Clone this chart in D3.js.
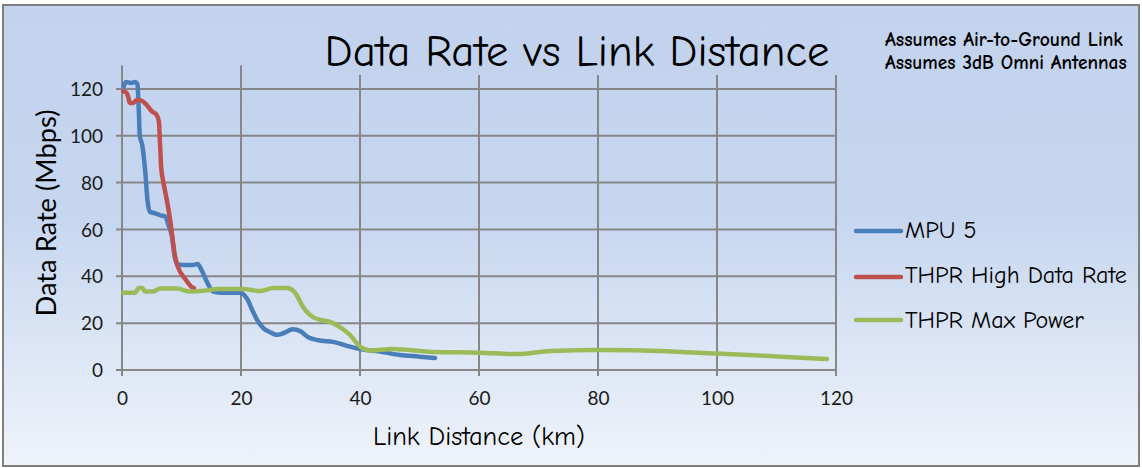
<!DOCTYPE html>
<html><head><meta charset="utf-8">
<script src="https://cdn.jsdelivr.net/npm/d3@7"></script>
<style>html,body{margin:0;padding:0;background:#fff;}svg{display:block;}</style>
</head><body>
<svg id="c" width="1142" height="468"></svg>
<script>
// ---- data ----
const mpu5 = [[0.3,121],[0.6,123],[1.5,122.5],[2.2,123],[2.6,122],[2.8,112],[3,100],[3.4,96],[3.9,85],[4.3,72],[4.7,67.5],[5.5,67],[6.5,66],[7.3,65.5],[7.8,62],[8.4,57],[8.9,48],[9.3,45],[10.5,44.8],[12,44.8],[12.7,45.3],[13.2,43.5],[14.3,37.5],[15.3,33.5],[17,33],[19.8,33],[21,30.5],[22,25],[22.8,21],[23.7,18],[25,16],[26,15],[27.2,15.8],[28.7,17.4],[30,16.5],[31.3,14],[33,12.7],[35.5,12],[38.3,10],[41,8.5],[43,8],[46.7,6.4],[50,5.7],[52.6,5.1]];
const thprHigh = [[0.2,119],[0.7,118.5],[1,117],[1.3,114],[1.9,114],[2.5,115.3],[3.3,115],[4.2,113],[5,110.5],[5.8,109],[6.2,106],[6.4,96],[6.6,86],[6.9,81],[7.5,73],[8.1,64],[8.4,58],[8.8,50],[9.4,44],[10.6,39],[11.7,35.5],[12.1,35]];
const thprMax = [[0.2,33],[2.2,33],[2.8,35],[3.4,35],[3.9,33.5],[5.2,33.5],[6.4,34.8],[9.2,34.8],[11.4,33.5],[14.3,34],[16,34.6],[20.3,34.6],[23.2,33.7],[25.4,35],[27.7,35],[29.1,33],[30.4,27],[32.1,22.6],[35.5,20],[37.1,17.5],[38.3,15],[40,10],[41.7,8.3],[45.5,9],[52.3,7.7],[60,7.4],[66.4,6.8],[72,8.1],[80,8.5],[85.4,8.4],[100,7],[110,5.8],[118.5,4.7]];
const seriesNames = ["MPU 5","THPR High Data Rate","THPR Max Power"];
const seriesColors = ["#4a7ebb","#c0504d","#9bbb59"];
const xTicks = [0,20,40,60,80,100,120];
const yTicks = [0,20,40,60,80,100,120];
const titleText = "Data Rate vs Link Distance";
const notes = ["Assumes Air-to-Ground Link","Assumes 3dB Omni Antennas"];
const xTitle = "Link Distance (km)";
const yTitle = "Data Rate (Mbps)";

const comic = "'Comic Sans MS','Comic Neue','Noto Sans',sans-serif";
const sans = "Lato,'Open Sans',sans-serif";

const svg = d3.select("#c");
const defs = svg.append("defs");
const g = defs.append("linearGradient").attr("id","bg").attr("x1",0).attr("y1",0).attr("x2",0).attr("y2",1);
g.append("stop").attr("offset","0%").attr("stop-color","#c3d3ee");
g.append("stop").attr("offset","45%").attr("stop-color","#c6d6ef");
g.append("stop").attr("offset","100%").attr("stop-color","#eff3fa");

svg.append("rect").attr("x",3).attr("y",5).attr("width",1136).attr("height",461)
  .attr("fill","url(#bg)").attr("stroke","#7f7f7f").attr("stroke-width",2);

const x = d3.scaleLinear().domain([0,120]).range([122,836]);
const y = d3.scaleLinear().domain([0,130]).range([370,65.5]);

// gridlines
const grid = svg.append("g").attr("stroke","#878787").attr("stroke-width",2);
grid.selectAll(".vx").data(xTicks).join("line")
  .attr("x1",d=>x(d)).attr("x2",d=>x(d)).attr("y1",y(130)).attr("y2",y(0)+6);
grid.selectAll(".hy").data(yTicks).join("line")
  .attr("x1",x(0)-6).attr("x2",x(120)).attr("y1",d=>y(d)).attr("y2",d=>y(d));

const xAxis = svg.append("g").attr("transform",`translate(0,${y(0)})`)
  .call(d3.axisBottom(x).tickValues(xTicks).tickSize(0).tickPadding(22));
const yAxis = svg.append("g").attr("transform",`translate(${x(0)},0)`)
  .call(d3.axisLeft(y).tickValues(yTicks).tickSize(0).tickPadding(19));
[xAxis,yAxis].forEach(a=>{a.select(".domain").remove();
  a.selectAll("text").attr("font-family",sans).attr("font-size",19).attr("fill","#1a1a1a");});
yAxis.selectAll("text").attr("dy","0.35em");

svg.append("rect").attr("x",318).attr("y",30).attr("width",522).attr("height",45).attr("fill","#c3d3ee");

function fit(sel, w){
  const n = sel.node(); const fs = parseFloat(sel.attr("font-size"));
  const len = n.getComputedTextLength(); sel.attr("font-size", fs*w/len);
}
const t = svg.append("text").attr("x",577).attr("y",66).attr("text-anchor","middle")
  .attr("font-family",comic).attr("font-size",38).attr("fill","#000").text(titleText);
fit(t,505);

notes.forEach((s,i)=>{
  const n = svg.append("text").attr("x",885).attr("y",[46,69][i]).attr("font-family",comic)
    .attr("font-weight","bold").attr("font-size",16).attr("fill","#000").text(s);
  fit(n,[238,242][i]);
});

const xt = svg.append("text").attr("x",479).attr("y",445).attr("text-anchor","middle")
  .attr("font-family",comic).attr("font-size",22).attr("fill","#000").text(xTitle);
fit(xt,212);
const yt = svg.append("text").attr("transform","translate(56,213) rotate(-90)").attr("text-anchor","middle")
  .attr("font-family",sans).attr("font-size",26).attr("fill","#000").text(yTitle);
fit(yt,207);

const line = d3.line().x(d=>x(d[0])).y(d=>y(d[1])).curve(d3.curveMonotoneX);
const data = [mpu5,thprHigh,thprMax];
[0,1,2].forEach(i=>{
  svg.append("path").datum(data[i]).attr("d",line).attr("fill","none")
    .attr("stroke",seriesColors[i]).attr("stroke-width",4.5)
    .attr("stroke-linejoin","round").attr("stroke-linecap","round");
});

const ly = [231,277,320], tyb=[238,283,328];
seriesNames.forEach((s,i)=>{
  svg.append("line").attr("x1",856).attr("x2",901).attr("y1",ly[i]).attr("y2",ly[i])
    .attr("stroke",seriesColors[i]).attr("stroke-width",4.5).attr("stroke-linecap","round");
  const tx = svg.append("text").attr("class","leg").attr("x",905).attr("y",tyb[i]).attr("font-family",comic)
    .attr("font-size",21).attr("fill","#000").text(s);
  if(i===1) fit(tx,222);
});
const fsL = svg.selectAll("text.leg").filter((d,i)=>i===1).attr("font-size");
svg.selectAll("text.leg").attr("font-size",fsL);
</script>
</body></html>
